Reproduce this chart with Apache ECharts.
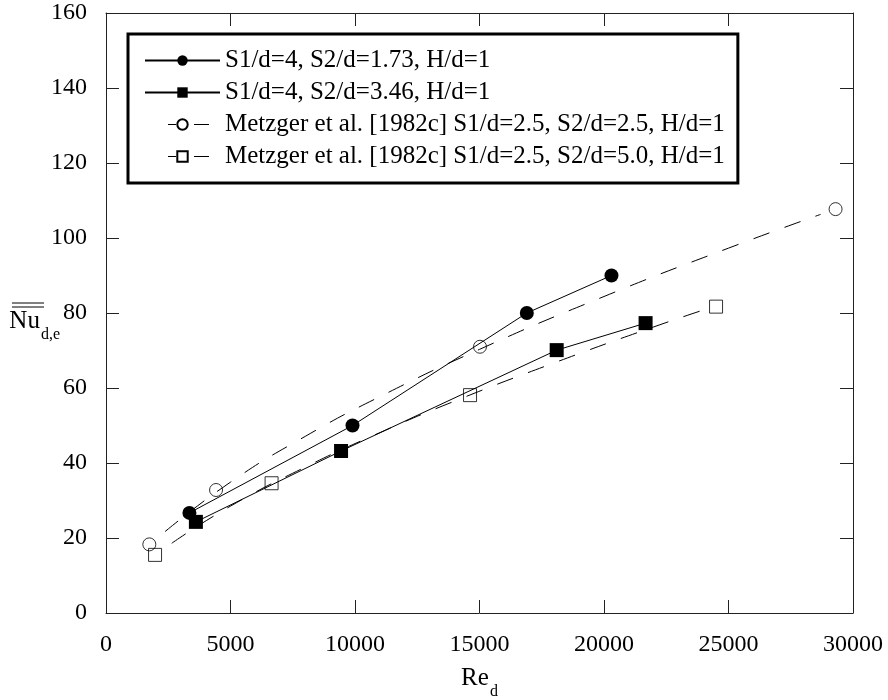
<!DOCTYPE html>
<html>
<head>
<meta charset="utf-8">
<script src="https://cdn.jsdelivr.net/npm/echarts@6/dist/echarts.min.js"></script>
<style>
html,body{margin:0;padding:0;background:#fff;}
#chart{width:888px;height:700px;}
</style>
</head>
<body>
<div id="chart"></div>
<script>
// ---- data ----
const seriesNames = [
  'S1/d=4, S2/d=1.73, H/d=1',
  'S1/d=4, S2/d=3.46, H/d=1',
  'Metzger et al. [1982c] S1/d=2.5, S2/d=2.5, H/d=1',
  'Metzger et al. [1982c] S1/d=2.5, S2/d=5.0, H/d=1'
];
const s1Re = [3350, 9900, 16900, 20300];
const s1Nu = [26.7, 50.0, 80.0, 90.0];
const s2Re = [3610, 9440, 18100, 21670];
const s2Nu = [24.3, 43.2, 70.1, 77.3];
const m1Re = [1740, 4420, 15020, 29300];
const m1Nu = [18.3, 32.8, 71.0, 107.7];
const m2Re = [1970, 6650, 14620, 24500];
const m2Nu = [15.5, 34.6, 58.1, 81.7];
// dashed fit curves
const fit1Re = [2370, 5000, 8000, 11000, 15000, 20000, 25000, 28700];
const fit1Nu = [21.7, 34.9, 47.1, 57.7, 70.3, 84.4, 97.3, 106.3];
const fit2Re = [2640, 5000, 8000, 11000, 14000, 18000, 22000, 24450];
const fit2Nu = [18.6, 28.5, 38.9, 48.1, 56.5, 66.7, 76.3, 81.8];
const xTicks = [0, 5000, 10000, 15000, 20000, 25000, 30000];
const yTicks = [0, 20, 40, 60, 80, 100, 120, 140, 160];

const pairs = (xs, ys) => xs.map((x, i) => [x, ys[i]]);
const FONT = '"Liberation Serif", "Times New Roman", serif';

const chart = echarts.init(document.getElementById('chart'), null, {renderer: 'canvas'});

const axisCommon = {
  type: 'value',
  axisLine: {show: true, onZero: false, lineStyle: {color: '#222', width: 1}},
  axisTick: {show: true, inside: true, length: 13, lineStyle: {color: '#222', width: 1}},
  splitLine: {show: false},
  minorTick: {show: false}
};

const openItem = {color: 'rgba(0,0,0,0)', borderColor: '#000', borderWidth: 1};
const plainNum = v => String(v);
const legendDash = {color: '#000', width: 1, type: [8, 18, 15, 56], dashOffset: 74};

const option = {
  animation: false,
  backgroundColor: '#fff',
  grid: {left: 106, right: 35, top: 13, bottom: 87, containLabel: false, outerBoundsMode: 'none'},
  xAxis: [
    Object.assign({}, axisCommon, {
      min: xTicks[0], max: xTicks[xTicks.length - 1], interval: 5000,
      position: 'bottom',
      axisLabel: {show: true, margin: 20, color: '#000', fontFamily: FONT, fontSize: 24, formatter: plainNum},
      name: '{a|Re}{b|d}',
      nameLocation: 'middle',
      nameGap: 53,
      nameMoveOverlap: false,
      nameTextStyle: {
        fontFamily: FONT, color: '#000',
        rich: {
          a: {fontFamily: FONT, fontSize: 25, color: '#000', lineHeight: 25, verticalAlign: 'top'},
          b: {fontFamily: FONT, fontSize: 16, color: '#000', lineHeight: 16, padding: [18, 0, 0, 1], verticalAlign: 'top'}
        }
      }
    }),
    Object.assign({}, axisCommon, {
      min: xTicks[0], max: xTicks[xTicks.length - 1], interval: 5000,
      position: 'top',
      axisLabel: {show: false}
    })
  ],
  yAxis: [
    Object.assign({}, axisCommon, {
      min: yTicks[0], max: yTicks[yTicks.length - 1], interval: 20,
      position: 'left',
      axisLabel: {show: true, margin: 19, color: '#000', fontFamily: FONT, fontSize: 24, formatter: plainNum},
      name: '{a|Nu}{b|d,e}',
      nameLocation: 'middle',
      nameRotate: 0,
      nameGap: 46,
      nameMoveOverlap: false,
      nameTextStyle: {
        fontFamily: FONT, color: '#000', align: 'right', verticalAlign: 'middle',
        padding: [16, 0, 0, 0],
        rich: {
          a: {fontFamily: FONT, fontSize: 25, color: '#000', lineHeight: 25, verticalAlign: 'top'},
          b: {fontFamily: FONT, fontSize: 16, color: '#000', lineHeight: 16, padding: [18, 0, 0, 1], verticalAlign: 'top'}
        }
      }
    }),
    Object.assign({}, axisCommon, {
      min: yTicks[0], max: yTicks[yTicks.length - 1], interval: 20,
      position: 'right',
      axisLabel: {show: false}
    })
  ],
  legend: {
    show: true,
    orient: 'vertical',
    left: 128, top: 34,
    padding: [14, 13, 14, 16],
    itemGap: 7,
    itemWidth: 75,
    itemHeight: 13,
    backgroundColor: '#fff',
    borderColor: '#000',
    borderWidth: 3,
    borderRadius: 0,
    textStyle: {fontFamily: FONT, fontSize: 25, color: '#000'},
    data: [
      {name: seriesNames[0]},
      {name: seriesNames[1]},
      {name: seriesNames[2], lineStyle: legendDash},
      {name: seriesNames[3], lineStyle: legendDash}
    ]
  },
  graphic: [
    {type: 'line', shape: {x1: 12, y1: 303, x2: 44, y2: 303}, style: {stroke: '#000', lineWidth: 1}},
    {type: 'line', shape: {x1: 12, y1: 307, x2: 44, y2: 307}, style: {stroke: '#000', lineWidth: 1}}
  ],
  series: [
    {
      name: seriesNames[0], type: 'line', data: pairs(s1Re, s1Nu),
      symbol: 'circle', symbolSize: 14,
      itemStyle: {color: '#000'},
      lineStyle: {color: '#000', width: 1},
      z: 3
    },
    {
      name: seriesNames[1], type: 'line', data: pairs(s2Re, s2Nu),
      symbol: 'rect', symbolSize: 14,
      itemStyle: {color: '#000'},
      lineStyle: {color: '#000', width: 1},
      z: 3
    },
    {
      name: seriesNames[2], type: 'line', data: pairs(fit1Re, fit1Nu),
      smooth: true, showSymbol: false,
      symbol: 'circle', symbolSize: 12,
      itemStyle: openItem,
      lineStyle: {color: '#000', width: 1, type: [17, 16]},
      z: 2
    },
    {
      name: seriesNames[2], type: 'scatter', data: pairs(m1Re, m1Nu),
      symbol: 'circle', symbolSize: 13,
      itemStyle: openItem,
      z: 4
    },
    {
      name: seriesNames[3], type: 'line', data: pairs(fit2Re, fit2Nu),
      smooth: true, showSymbol: false,
      symbol: 'rect', symbolSize: 12,
      itemStyle: openItem,
      lineStyle: {color: '#000', width: 1, type: [17, 16]},
      z: 2
    },
    {
      name: seriesNames[3], type: 'scatter', data: pairs(m2Re, m2Nu),
      symbol: 'rect', symbolSize: 13,
      itemStyle: openItem,
      z: 4
    }
  ]
};
chart.setOption(option);
</script>
</body>
</html>
